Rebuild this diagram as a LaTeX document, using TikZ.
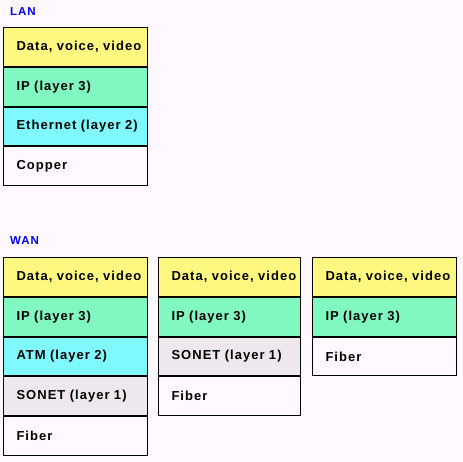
\documentclass[tikz,border=0pt]{standalone}
\usepackage{fontspec}
\usetikzlibrary{positioning}
\newfontfamily\cellfont[LetterSpace=8]{Liberation Sans}

\definecolor{bgpink}{HTML}{FFF8FF}
\definecolor{appyellow}{HTML}{FFF880}
\definecolor{ipgreen}{HTML}{80F8C0}
\definecolor{linkcyan}{HTML}{80F8FF}
\definecolor{phygray}{HTML}{EEE8EE}
\definecolor{titleblue}{HTML}{0000F0}

\begin{document}
\begin{tikzpicture}[x=1pt,y=-1pt,
		cell/.style={draw=black, line width=1pt, minimum width=144pt, minimum height=38.8pt,
			text width=118pt, inner xsep=13pt, align=left,
			font=\cellfont\bfseries\fontsize{13}{15}\selectfont},
		narrow/.style={minimum width=142pt, text width=116pt},
		appcell/.style={cell, fill=appyellow},
		ipcell/.style={cell, fill=ipgreen},
		linkcell/.style={cell, fill=linkcyan},
		phycell/.style={cell, fill=phygray},
		mediumcell/.style={cell, fill=bgpink},
		title/.style={text=titleblue, font=\cellfont\bfseries\fontsize{11.5}{13}\selectfont, anchor=west, inner sep=0pt}
	]
	% page
	\fill[bgpink] (0,0) rectangle (463,462);
	\useasboundingbox (0,0) rectangle (463,462);

	% LAN stack
	\node[title] (lan) at (10,12) {LAN};
	\node[appcell, anchor=north west] (lanApp) at (3,27) {Data,~voice,~video};
	\node[ipcell, below=0pt of lanApp] (lanIP) {IP~(layer~3)};
	\node[linkcell, below=0pt of lanIP] (lanEth) {Ethernet~(layer~2)};
	\node[mediumcell, below=0pt of lanEth] (lanCu) {Copper};

	% WAN stacks
	\node[title] (wan) at (10,241) {WAN};

	% IP over ATM over SONET
	\node[appcell, anchor=north west] (atmApp) at (3,257) {Data,~voice,~video};
	\node[ipcell, below=0pt of atmApp] (atmIP) {IP~(layer~3)};
	\node[linkcell, below=0pt of atmIP] (atmATM) {ATM~(layer~2)};
	\node[phycell, below=0pt of atmATM] (atmSonet) {SONET~(layer~1)};
	\node[mediumcell, below=0pt of atmSonet] (atmFiber) {Fiber};

	% IP over SONET
	\node[appcell, narrow, right=10pt of atmApp] (sonApp) {Data,~voice,~video};
	\node[ipcell, narrow, below=0pt of sonApp] (sonIP) {IP~(layer~3)};
	\node[phycell, narrow, below=0pt of sonIP] (sonSonet) {SONET~(layer~1)};
	\node[mediumcell, narrow, below=0pt of sonSonet] (sonFiber) {Fiber};

	% IP over fiber
	\node[appcell, right=11pt of sonApp] (dirApp) {Data,~voice,~video};
	\node[ipcell, below=0pt of dirApp] (dirIP) {IP~(layer~3)};
	\node[mediumcell, below=0pt of dirIP] (dirFiber) {Fiber};
\end{tikzpicture}
\end{document}
